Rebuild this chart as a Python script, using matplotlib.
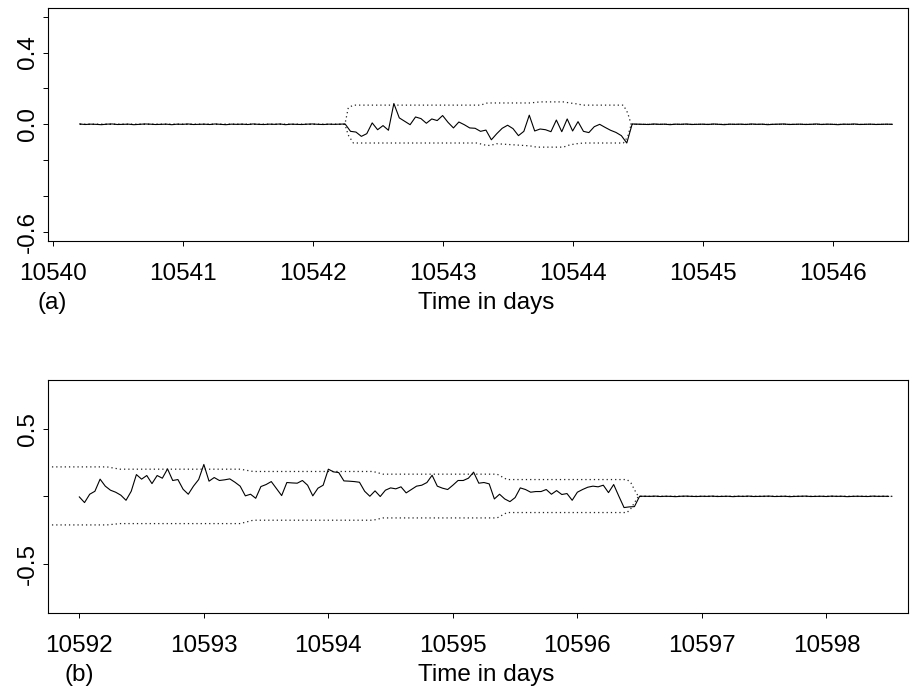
import numpy as np
import matplotlib
matplotlib.use('Agg')
import matplotlib.pyplot as plt

plt.rcParams['font.family'] = ['Liberation Sans', 'DejaVu Sans']

# === panel (a): hourly series ===
a_start = 10540.208
a_pre = [0.002, -0.001, 0.001, 0.000, -0.002, 0.001, 0.002, -0.001, 0.000, 0.001,
         -0.002, 0.000, 0.002, 0.001, -0.001, 0.000, 0.001, -0.002, 0.001, 0.000,
         0.002, -0.001, 0.000, 0.001, -0.001, 0.002, 0.000, -0.002, 0.001, 0.000,
         0.001, -0.001, 0.002, 0.000, -0.001, 0.001, 0.000, 0.002, -0.002, 0.001,
         0.000, -0.001, 0.001, 0.002, 0.000, -0.001, 0.001, 0.000, 0.001]
a_mid = [0.002, -0.039, -0.043, -0.067, -0.052, 0.008, -0.030, -0.007, -0.033, 0.116,
         0.036, 0.017, -0.002, 0.041, 0.032, 0.006, 0.030, 0.021, 0.049, 0.011,
         -0.020, 0.013, -0.002, -0.020, -0.022, -0.039, -0.032, -0.086, -0.052, -0.022,
         -0.005, -0.024, -0.063, -0.039, 0.051, -0.037, -0.026, -0.030, -0.041, 0.024,
         -0.041, 0.030, -0.037, 0.015, -0.039, -0.046, -0.013, 0.000, -0.017, -0.033,
         -0.045, -0.063, -0.104, 0.002]
a_post = [0.001, 0.000, -0.001, 0.002, 0.000, 0.001, -0.002, 0.001, 0.000, 0.002,
          -0.001, 0.000, 0.001, -0.001, 0.002, 0.000, -0.002, 0.001, 0.000, 0.001,
          -0.001, 0.002, 0.000, 0.001, -0.002, 0.000, 0.001, 0.002, -0.001, 0.000,
          0.001, -0.001, 0.000, 0.002, -0.001, 0.001, 0.000, -0.002, 0.001, 0.000,
          0.002, -0.001, 0.000, 0.001, -0.001, 0.000, 0.001, 0.000]

# dotted band (time, upper, lower)
a_band_t = [10540.21, 10542.248, 10542.261, 10542.274, 10542.313, 10543.261, 10543.287,
            10543.313, 10543.338, 10543.364, 10543.415, 10543.672, 10543.723, 10543.749,
            10543.928, 10543.979, 10544.031, 10544.082, 10544.390, 10544.423, 10544.450,
            10546.46]
a_band_up = [0.0, 0.0, 0.045, 0.092, 0.107, 0.107, 0.107,
             0.112, 0.118, 0.119, 0.119, 0.119, 0.123, 0.125,
             0.125, 0.119, 0.114, 0.107, 0.107, 0.064, 0.0,
             0.0]
a_band_lo = [0.0, 0.0, -0.030, -0.060, -0.104, -0.104, -0.108,
             -0.114, -0.116, -0.118, -0.108, -0.120, -0.127, -0.127,
             -0.127, -0.114, -0.108, -0.104, -0.104, -0.070, 0.0,
             0.0]

# === panel (b) ===
b_start = 10592.0
b_mid = [-0.004, -0.046, 0.016, 0.038, 0.128, 0.076, 0.046, 0.031, 0.009, -0.029,
         0.038, 0.162, 0.128, 0.155, 0.095, 0.155, 0.135, 0.204, 0.118, 0.125,
         0.053, 0.016, 0.076, 0.125, 0.237, 0.113, 0.140, 0.118, 0.123, 0.130,
         0.105, 0.076, 0.004, 0.016, -0.014, 0.073, 0.088, 0.110, 0.058, 0.006,
         0.103, 0.100, 0.098, 0.118, 0.083, 0.004, 0.061, 0.083, 0.202, 0.182,
         0.177, 0.115, 0.113, 0.110, 0.105, 0.038, 0.001, 0.041, -0.001, 0.046,
         0.063, 0.056, 0.071, 0.026, 0.051, 0.076, 0.083, 0.103, 0.157, 0.076,
         0.061, 0.051, 0.083, 0.118, 0.118, 0.135, 0.180, 0.098, 0.103, 0.093,
         -0.019, 0.016, -0.019, -0.039, -0.009, 0.063, 0.051, 0.031, 0.036, 0.036,
         0.051, 0.016, 0.043, 0.014, 0.021, -0.029, 0.031, 0.051, 0.068, 0.076,
         0.071, 0.083, 0.028, 0.088, 0.001, -0.083, -0.078, -0.076, 0.001, 0.001]
b_post = [0.000, 0.002, -0.001, 0.001, 0.000, -0.002, 0.001, 0.002, 0.000, -0.001,
          0.001, 0.000, 0.002, -0.001, 0.000, 0.001, -0.002, 0.001, 0.000, 0.002,
          -0.001, 0.000, 0.001, 0.002, -0.001, 0.000, 0.001, -0.002, 0.000, 0.001,
          0.002, -0.001, 0.000, 0.001, -0.001, 0.002, 0.000, 0.001, -0.002, 0.000,
          0.001, 0.000, -0.001, 0.002, 0.000, 0.001, 0.000]

b_band_t = [10591.746, 10592.222, 10592.327, 10593.292, 10593.396, 10594.359, 10594.439,
            10595.355, 10595.435, 10596.399, 10596.430, 10596.470, 10596.490, 10598.53]
b_band_up = [0.219, 0.219, 0.202, 0.202, 0.185, 0.185, 0.165,
             0.165, 0.125, 0.125, 0.100, 0.030, 0.0, 0.0]
b_band_lo = [-0.212, -0.212, -0.202, -0.202, -0.177, -0.177, -0.160,
             -0.160, -0.120, -0.120, -0.090, -0.030, 0.0, 0.0]

a_xticks = [10540, 10541, 10542, 10543, 10544, 10545, 10546]
b_xticks = [10592, 10593, 10594, 10595, 10596, 10597, 10598]
a_yticks = [-0.6, -0.4, -0.2, 0.0, 0.2, 0.4, 0.6]
a_ylabels = ['-0.6', '', '', '0.0', '', '0.4', '']
b_yticks = [-0.5, 0.0, 0.5]
b_ylabels = ['-0.5', '', '0.5']

FS = 17.5
DOT = (0, (1, 2.4))


def draw_panel(ax, start, vals, band_t, band_up, band_lo, xticks, yticks, ylabels,
               xlim, ylim, tag):
    t = start + np.arange(len(vals)) / 24.0
    ax.plot(band_t, band_up, color='#222222', lw=0.9, linestyle=DOT)
    ax.plot(band_t, band_lo, color='#222222', lw=0.9, linestyle=DOT)
    ax.plot(t, vals, color='black', lw=0.8)
    ax.set_xlim(*xlim)
    ax.set_ylim(*ylim)
    ax.set_xticks(xticks)
    ax.set_xticklabels([str(x) for x in xticks])
    ax.set_yticks(yticks)
    ax.set_yticklabels(ylabels, rotation=90, va='center')
    ax.tick_params(axis='both', direction='out', length=3.3, width=0.7, labelsize=FS)
    ax.tick_params(axis='x', pad=12.5)
    ax.tick_params(axis='y', pad=3)
    for s in ax.spines.values():
        s.set_linewidth(0.8)
    ax.text(xticks[0], -0.2935, tag, transform=ax.get_xaxis_transform(),
            ha='center', va='baseline', fontsize=FS)
    ax.text(0.5095, -0.2935, 'Time in days', transform=ax.transAxes,
            ha='center', va='baseline', fontsize=FS)


fig = plt.figure(figsize=(9.14, 6.9), dpi=100)
ax1 = fig.add_axes([0.0522, 0.6512, 0.9413, 0.3372])
ax2 = fig.add_axes([0.0522, 0.1120, 0.9413, 0.3372])

draw_panel(ax1, a_start, a_pre + a_mid + a_post, a_band_t, a_band_up, a_band_lo,
           a_xticks, a_yticks, a_ylabels, (10539.962, 10546.58), (-0.648, 0.648), '(a)')
draw_panel(ax2, b_start, b_mid + b_post, b_band_t, b_band_up, b_band_lo,
           b_xticks, b_yticks, b_ylabels, (10591.746, 10598.656), (-0.864, 0.864), '(b)')

fig.savefig('out.png', dpi=100)
plt.close(fig)
